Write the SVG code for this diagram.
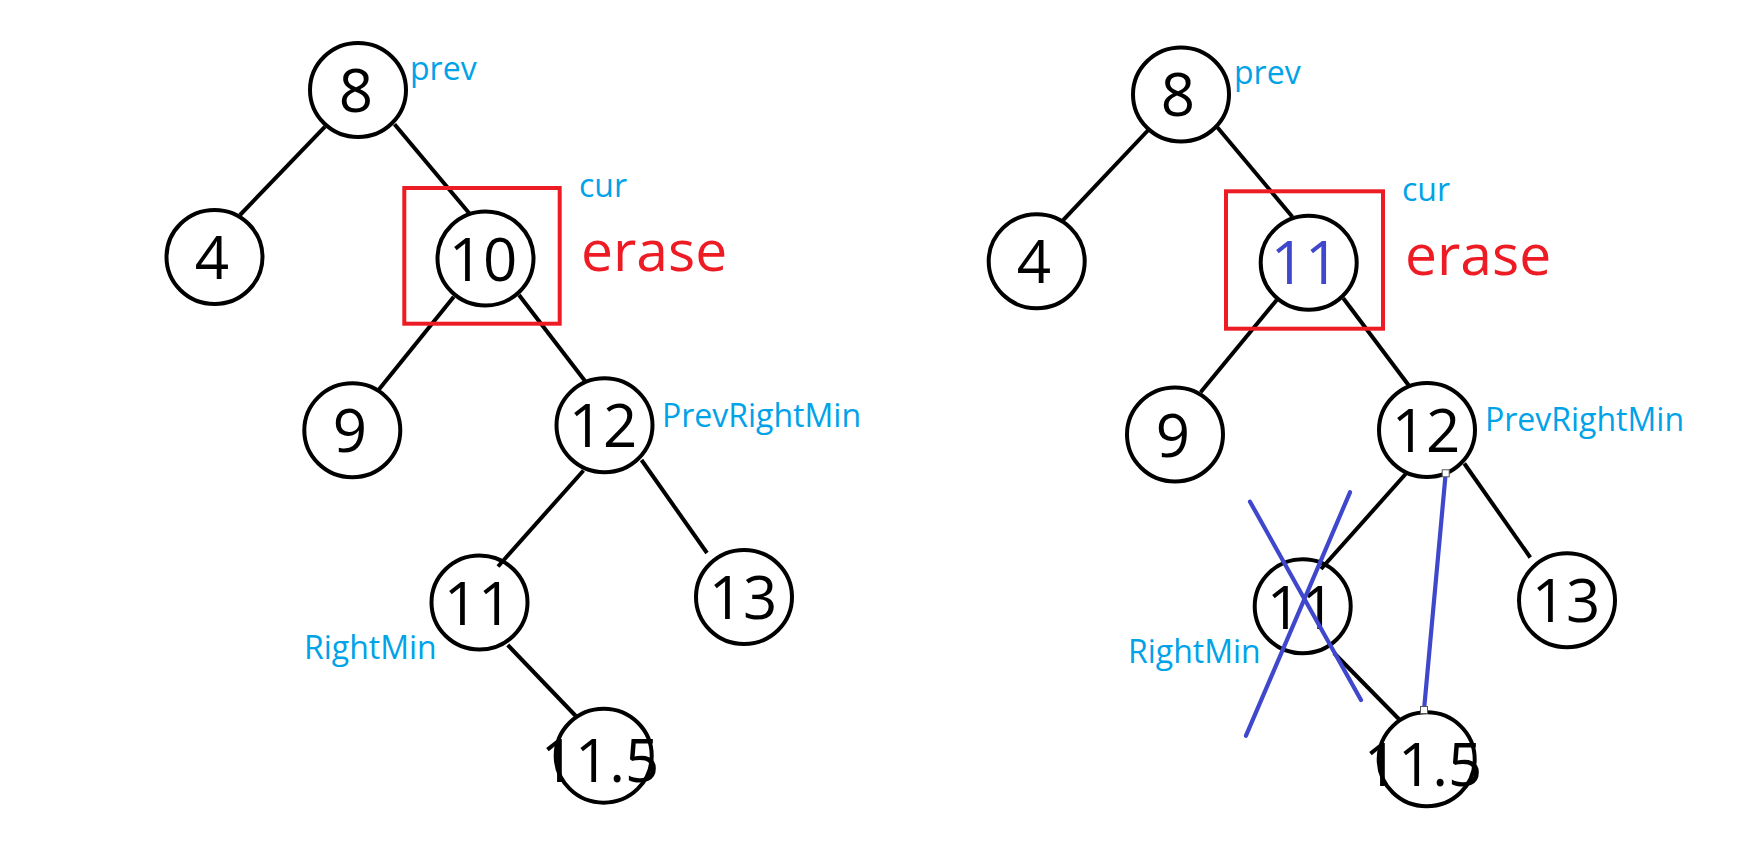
<svg xmlns="http://www.w3.org/2000/svg" width="1764" height="867" viewBox="0 0 1764 867">
<style>
.node ellipse{fill:none;stroke:#000;stroke-width:4}
.num{font-family:"Open Sans","Noto Sans",sans-serif;font-size:60px;fill:#000;text-anchor:middle}
.lbl{font-family:"Open Sans","Noto Sans",sans-serif;font-size:32px;fill:#00A2E8}
.erase{font-family:"Open Sans","Noto Sans",sans-serif;font-size:57px;fill:#ED1C24}
.edge{stroke:#000;stroke-width:4;stroke-linecap:butt}
.blue{stroke:#3F48CC;stroke-width:4.2;stroke-linecap:round}
.box{fill:none;stroke:#ED1C24;stroke-width:4}
.handle{fill:#fff;stroke:#555;stroke-width:1}
</style>
<rect width="1764" height="867" fill="#fff"/>
<g id="connectors">
  <line class="edge" x1="325" y1="126.7" x2="240" y2="215"/>
  <line class="edge" x1="394.5" y1="124.3" x2="469" y2="213"/>
  <line class="edge" x1="453.8" y1="296.7" x2="378.5" y2="390"/>
  <line class="edge" x1="519" y1="295" x2="585" y2="381"/>
  <line class="edge" x1="583.5" y1="470.5" x2="498" y2="566.5"/>
  <line class="edge" x1="641.5" y1="460" x2="707" y2="553"/>
  <line class="edge" x1="507.7" y1="645" x2="575.8" y2="716"/>
  <line class="edge" x1="1148.3" y1="130" x2="1062.7" y2="220.7"/>
  <line class="edge" x1="1217.3" y1="127.3" x2="1292.3" y2="216.7"/>
  <line class="edge" x1="1276.7" y1="300" x2="1200.6" y2="392.3"/>
  <line class="edge" x1="1343.3" y1="298.3" x2="1409.2" y2="386"/>
  <line class="edge" x1="1406.5" y1="473" x2="1321" y2="569"/>
  <line class="edge" x1="1464.3" y1="463.5" x2="1530.3" y2="557.5"/>
  <line class="edge" x1="1334" y1="653" x2="1399.3" y2="719.5"/>
</g>
<g id="L8" class="node"><ellipse cx="358" cy="90" rx="48" ry="47"/><text class="num" x="356" y="112">8</text></g>
<g id="L4" class="node"><ellipse cx="214.5" cy="257" rx="48" ry="47"/><text class="num" x="212" y="279">4</text></g>
<g id="L10" class="node"><ellipse cx="485.5" cy="258.5" rx="48" ry="47"/><text class="num" x="483" y="281">10</text></g>
<g id="L9" class="node"><ellipse cx="352.3" cy="430.3" rx="48" ry="47"/><text class="num" x="350" y="452">9</text></g>
<g id="L12" class="node"><ellipse cx="604.5" cy="425.3" rx="48" ry="47"/><text class="num" x="603" y="447">12</text></g>
<g id="L11" class="node"><ellipse cx="479.5" cy="602.5" rx="48" ry="47"/><text class="num" x="478" y="625">11</text></g>
<g id="L13" class="node"><ellipse cx="744" cy="597" rx="48" ry="47"/><text class="num" x="743" y="619">13</text></g>
<g id="L115" class="node"><ellipse cx="603.7" cy="755.7" rx="48" ry="47"/><text class="num" x="600" y="782">11.5</text></g>
<g id="Lbox"><rect class="box" x="404.3" y="188" width="155.4" height="135.7"/></g>
<g id="Llabels">
  <text class="lbl" x="410" y="80">prev</text>
  <text class="lbl" x="579" y="197">cur</text>
  <text class="erase" x="581" y="271">erase</text>
  <text class="lbl" x="662" y="427">PrevRightMin</text>
  <text class="lbl" x="304" y="659">RightMin</text>
</g>
<g id="R8" class="node"><ellipse cx="1181" cy="94.5" rx="48" ry="47"/><text class="num" x="1178" y="116">8</text></g>
<g id="R4" class="node"><ellipse cx="1036.7" cy="261.3" rx="48" ry="47"/><text class="num" x="1034" y="283">4</text></g>
<g id="R11a" class="node"><ellipse cx="1308.7" cy="262.8" rx="48" ry="47"/><text class="num" x="1305" y="284" style="fill:#3F48CC">11</text></g>
<g id="R9" class="node"><ellipse cx="1175" cy="434.5" rx="48" ry="47"/><text class="num" x="1173" y="457">9</text></g>
<g id="R12" class="node"><ellipse cx="1427" cy="430" rx="48" ry="47"/><text class="num" x="1426" y="452">12</text></g>
<g id="R11" class="node"><ellipse cx="1302.7" cy="606.3" rx="48" ry="47"/><text class="num" x="1301" y="629">11</text></g>
<g id="R13" class="node"><ellipse cx="1567" cy="600.3" rx="48" ry="47"/><text class="num" x="1566" y="622">13</text></g>
<g id="R115" class="node"><ellipse cx="1426.7" cy="759.3" rx="48" ry="47"/><text class="num" x="1423" y="786">11.5</text></g>
<g id="Rbox"><rect class="box" x="1226" y="191.3" width="157" height="137.4"/></g>
<g id="Rlabels">
  <text class="lbl" x="1234" y="84">prev</text>
  <text class="lbl" x="1402" y="201">cur</text>
  <text class="erase" x="1405" y="275">erase</text>
  <text class="lbl" x="1485" y="431">PrevRightMin</text>
  <text class="lbl" x="1128" y="663">RightMin</text>
</g>
<g id="marks">
  <line class="blue" x1="1250" y1="501.7" x2="1361" y2="700"/>
  <line class="blue" x1="1350" y1="492.3" x2="1246" y2="735.7"/>
  <line class="blue" x1="1445.7" y1="473.3" x2="1424" y2="710"/>
  <rect class="handle" x="1442.2" y="469.8" width="7" height="7"/>
  <rect class="handle" x="1420.5" y="706.5" width="7" height="7"/>
</g>
</svg>
